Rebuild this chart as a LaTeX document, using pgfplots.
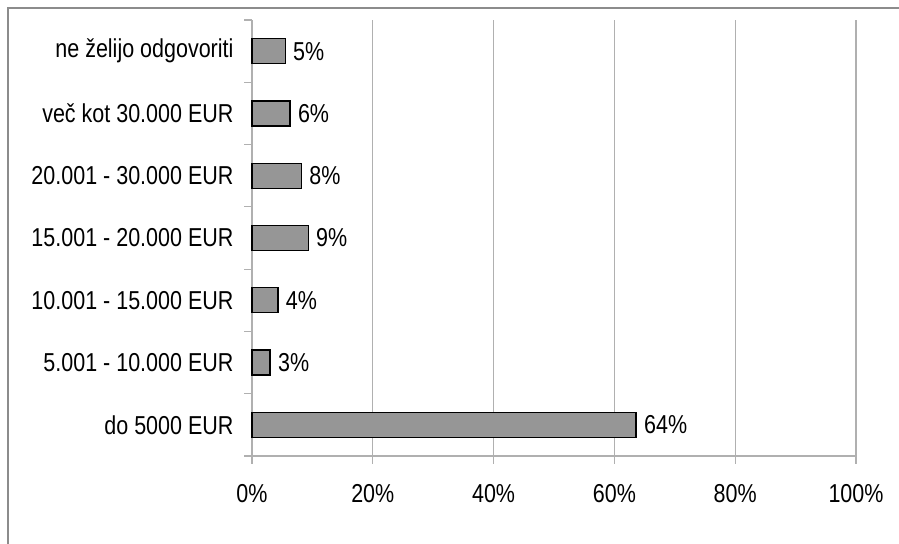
\documentclass[border=0pt]{standalone}
\usepackage{pgfplots}
\pgfplotsset{compat=1.18}
\usepackage{pgfplotstable}
\usepackage{fontspec}
\setmainfont{Liberation Sans}[FakeStretch=0.83]

\definecolor{barfill}{HTML}{969696}
\definecolor{gridc}{HTML}{B0B0B0}
\definecolor{framec}{HTML}{8C8C8C}

\pgfplotstableread{
y val lab
0 63.6 64\%
1 3.0 3\%
2 4.3 4\%
3 9.3 9\%
4 8.2 8\%
5 6.3 6\%
6 5.5 5\%
}\incomedata

\begin{document}
\begin{tikzpicture}
\useasboundingbox (0,0) rectangle (899bp,544bp);
\draw[framec, line width=1.3bp] (8bp,-2bp) -- (8bp,536bp) -- (902bp,536bp);
\begin{axis}[
  at={(252bp,88bp)}, anchor=south west,
  scale only axis, width=604bp, height=436bp,
  xmin=0, xmax=100, ymin=-0.5, ymax=6.5,
  axis x line*=bottom, axis y line*=left,
  axis line style={gridc, line width=1.2bp, -},
  xtick={0,20,...,100},
  xticklabels={0\%,20\%,40\%,60\%,80\%,100\%},
  ytick={0,...,6},
  yticklabels={do 5000 EUR,5.001 - 10.000 EUR,10.001 - 15.000 EUR,15.001 - 20.000 EUR,20.001 - 30.000 EUR,več kot 30.000 EUR,ne želijo odgovoriti},
  minor xtick={0,20,...,100},
  minor ytick={-0.5,0.5,...,6.5},
  major tick length=0pt, minor tick length=8bp, tick align=outside,
  tick style={gridc, line width=1.2bp},
  xmajorgrids, grid style={gridc, line width=1.2bp},
  ticklabel style={font=\fontsize{26}{30}\selectfont, text=black},
  xticklabel style={yshift=-25bp},
  yticklabel style={xshift=-15bp},
  xbar, bar width=25bp,
  nodes near coords, point meta=explicit symbolic,
  every node near coord/.append style={font=\fontsize{26}{30}\selectfont, anchor=west, xshift=4bp},
  clip=false,
]
\addplot[fill=barfill, draw=black, line width=1.3bp] table[x=val, y=y, meta=lab] {\incomedata};
\end{axis}
\end{tikzpicture}
\end{document}
